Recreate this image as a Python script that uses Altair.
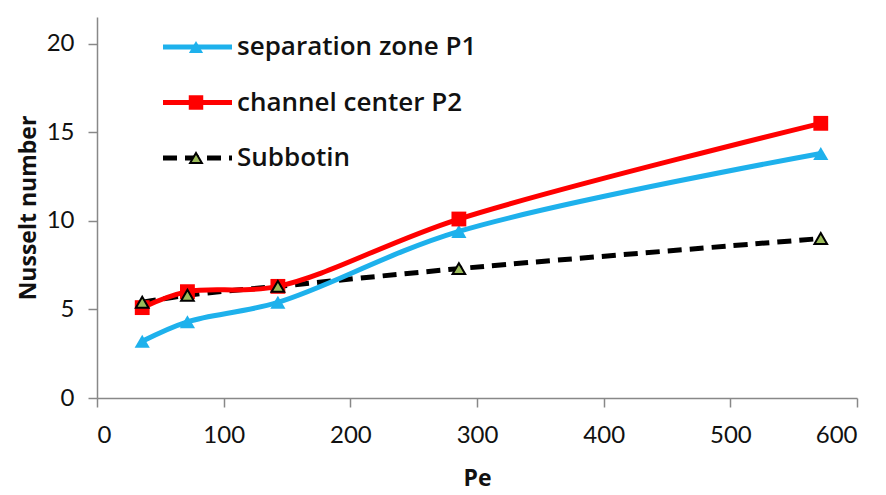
import altair as alt
import pandas as pd

pe = [35.7, 71.4, 142.8, 285.7, 571.4]
p1 = [3.2, 4.3, 5.4, 9.4, 13.8]
p2 = [5.1, 6.0, 6.3, 10.1, 15.5]
subbotin = [5.4, 5.8, 6.3, 7.3, 9.0]
series = ["separation zone P1", "channel center P2", "Subbotin"]
x_ticks = [0, 100, 200, 300, 400, 500, 600]
y_ticks = [0, 5, 10, 15, 20]

rows = []
for name, vals in zip(series, [p1, p2, subbotin]):
    for x, y in zip(pe, vals):
        rows.append({"series": name, "Pe": x, "Nu": y})
df = pd.DataFrame(rows)

FONT = "Lato"
TFONT = "Open Sans"
blue = "#1EB1EC"
red = "#FF0000"
green = "#9BBB59"

xenc = alt.X("Pe:Q", scale=alt.Scale(domain=[0, 600], nice=False),
             axis=alt.Axis(values=x_ticks, title="Pe"))
yenc = alt.Y("Nu:Q", scale=alt.Scale(domain=[0, 21.5], nice=False),
             axis=alt.Axis(values=y_ticks, title="Nusselt number"))

def line(name, color, dash=None):
    kw = dict(color=color, strokeWidth=5, interpolate="catmull-rom")
    if dash:
        kw["strokeDash"] = dash
    return alt.Chart(df).transform_filter(alt.datum.series == name).mark_line(**kw).encode(x=xenc, y=yenc)

def pts(name, shape, fill, size, stroke=None, sw=0):
    kw = dict(shape=shape, filled=True, fill=fill, size=size, opacity=1)
    if stroke:
        kw["stroke"] = stroke
        kw["strokeWidth"] = sw
    return alt.Chart(df).transform_filter(alt.datum.series == name).mark_point(**kw).encode(x=xenc, y=yenc)

# legend (row index -> vertical pixel position in the plot)
leg = pd.DataFrame({"series": series, "row": [0, 1, 2]})
ly = alt.Y("row:Q", scale=alt.Scale(domain=[0, 2], range=[30, 141]), axis=None)
leg_layers = []
for name, color, dash, shape, fill, size, stroke, sw in [
    (series[0], blue, None, "triangle-up", blue, 200, None, 0),
    (series[1], red, None, "square", red, 210, None, 0),
    (series[2], "black", [14, 8], "triangle-up", green, 140, "black", 2),
]:
    d = leg[leg.series == name]
    rkw = dict(color=color, strokeWidth=5)
    if dash:
        rkw["strokeDash"] = dash
    leg_layers.append(alt.Chart(d).mark_rule(**rkw).encode(x=alt.value(66), x2=alt.value(135), y=ly))
    pkw = dict(shape=shape, filled=True, fill=fill, size=size, opacity=1)
    if stroke:
        pkw["stroke"] = stroke
        pkw["strokeWidth"] = sw
    leg_layers.append(alt.Chart(d).mark_point(**pkw).encode(x=alt.value(99), y=ly))
leg_layers.append(alt.Chart(leg).mark_text(align="left", baseline="middle", font=TFONT, fontSize=26,
                                            fontWeight=600, color="#111").encode(
    x=alt.value(140), y=ly, text="series:N"))

data_layer = alt.layer(
    line(series[2], "black", [14, 8]),
    line(series[0], blue),
    line(series[1], red),
    pts(series[0], "triangle-up", blue, 230),
    pts(series[1], "square", red, 220),
    pts(series[2], "triangle-up", green, 160, "black", 2),
)
legend_layer = alt.layer(*leg_layers)

chart = alt.layer(data_layer, legend_layer).resolve_scale(y="independent").properties(
    width=760, height=381, autosize="none",
    padding={"left": 89, "top": 9, "right": 21, "bottom": 97},
).configure_view(stroke=None).configure_axis(
    grid=False, domainColor="#888888", domainWidth=1.5, tickColor="#888888", tickWidth=1.5,
    tickSize=9, labelFont=FONT, labelFontSize=24, labelColor="#111", titleFont=TFONT,
    titleFontSize=23, titleFontWeight="bold", titleColor="#111",
).configure_axisX(labelPadding=16, titlePadding=20).configure_axisY(labelPadding=14, titlePadding=6)

chart.save("out.html", embed_options={"renderer": "svg", "actions": False})
